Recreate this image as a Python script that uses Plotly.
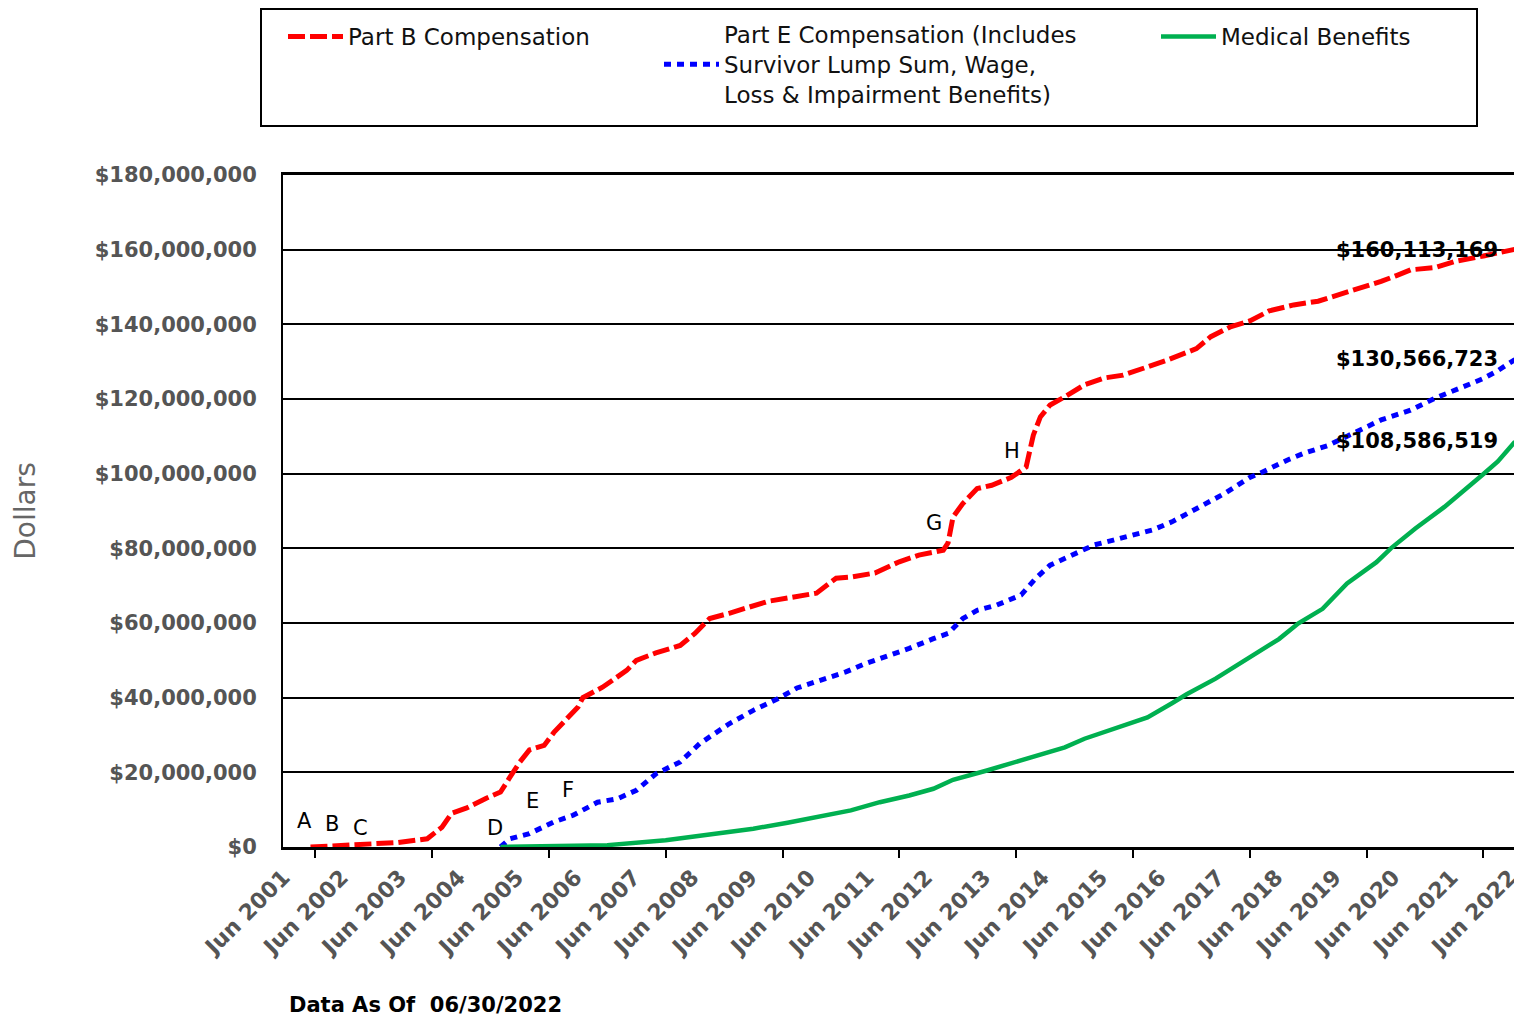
import plotly.graph_objects as go

# ---------------- data ----------------
part_b_dates = [
    "2001-11-15", "2002-03-15", "2002-11-15", "2003-05-15", "2003-11-15",
    "2004-02-15", "2004-04-15", "2004-07-15", "2004-11-15", "2005-02-15",
    "2005-04-15", "2005-06-15", "2005-08-15", "2005-11-15", "2006-01-15",
    "2006-03-15", "2006-06-15", "2006-07-15", "2006-11-15", "2007-04-15",
    "2007-06-15", "2007-10-15", "2008-03-15", "2008-06-15", "2008-09-15",
    "2009-01-15", "2009-05-15", "2009-09-15", "2010-02-15", "2010-07-15",
    "2010-11-15", "2011-02-15", "2011-07-15", "2011-12-15", "2012-04-15",
    "2012-09-15", "2012-10-15", "2012-11-15", "2013-01-15", "2013-04-15",
    "2013-07-15", "2013-11-15", "2014-02-15", "2014-04-01", "2014-05-15",
    "2014-07-15", "2014-10-15", "2015-02-15", "2015-06-15", "2015-10-15",
    "2016-03-15", "2016-07-15", "2017-01-15", "2017-04-15", "2017-08-15",
    "2017-12-15", "2018-04-15", "2018-09-15", "2019-02-15", "2019-06-15",
    "2019-10-15", "2020-03-15", "2020-06-15", "2020-09-15", "2021-02-15",
    "2021-06-15", "2021-12-15", "2022-03-15", "2022-06-30",
]
part_b_values = [
    0, 200000, 800000, 1200000, 2200000,
    5300000, 9000000, 10400000, 13000000, 14700000,
    18700000, 22700000, 26000000, 27200000, 30700000,
    33400000, 37500000, 40000000, 42800000, 47300000,
    50000000, 52000000, 54000000, 57200000, 61200000,
    62600000, 64200000, 65800000, 66900000, 68000000,
    72000000, 72300000, 73400000, 76400000, 78200000,
    79500000, 81500000, 88400000, 92000000, 96000000,
    96900000, 99000000, 101800000, 110300000, 115200000,
    118400000, 120600000, 123800000, 125600000, 126400000,
    128600000, 130400000, 133500000, 136700000, 139300000,
    140900000, 143600000, 145200000, 146200000, 147800000,
    149300000, 151500000, 153000000, 154600000, 155200000,
    156800000, 158300000, 159000000, 160113169,
]

part_e_dates = [
    "2005-02-15", "2005-04-15", "2005-08-15", "2006-01-15", "2006-05-15",
    "2006-10-15", "2007-02-15", "2007-06-15", "2007-10-15", "2008-03-15",
    "2008-07-15", "2009-01-15", "2009-06-15", "2009-11-15", "2010-03-15",
    "2010-07-15", "2011-01-15", "2011-05-15", "2011-09-15", "2012-02-15",
    "2012-07-15", "2012-10-15", "2013-01-15", "2013-04-15", "2013-08-15",
    "2014-01-15", "2014-04-15", "2014-07-15", "2015-01-15", "2015-04-15",
    "2015-08-15", "2015-12-15", "2016-04-15", "2016-08-15", "2016-11-15",
    "2017-04-15", "2017-07-15", "2017-12-15", "2018-02-15", "2018-08-15",
    "2018-11-15", "2019-04-15", "2019-10-15", "2020-03-15", "2020-09-15",
    "2021-02-15", "2021-07-15", "2021-12-15", "2022-03-15", "2022-06-30",
]
part_e_values = [
    0, 2200000, 3600000, 6700000, 8500000,
    12000000, 12900000, 15200000, 19600000, 22800000,
    27700000, 33000000, 36600000, 39700000, 42600000,
    44300000, 46900000, 49100000, 50900000, 53200000,
    55800000, 57200000, 61200000, 63400000, 64800000,
    67500000, 71900000, 75500000, 79100000, 80900000,
    82200000, 83600000, 84900000, 87100000, 89300000,
    92900000, 94800000, 99000000, 100100000, 103800000,
    105400000, 107500000, 111200000, 114400000, 117000000,
    120200000, 122800000, 125500000, 127600000, 130566723,
]

medical_dates = [
    "2005-02-15", "2006-01-15", "2006-12-15", "2007-12-15", "2008-11-15",
    "2009-06-15", "2010-01-15", "2010-09-15", "2011-02-15", "2011-08-15",
    "2012-02-15", "2012-07-15", "2012-11-15", "2013-06-15", "2014-01-15",
    "2014-06-15", "2014-10-15", "2015-02-15", "2015-08-15", "2016-03-15",
    "2016-08-15", "2016-11-15", "2017-05-15", "2017-12-15", "2018-06-15",
    "2018-10-15", "2019-03-15", "2019-08-15", "2020-02-15", "2020-05-15",
    "2020-10-15", "2021-04-15", "2021-09-15", "2021-12-15", "2022-03-15",
    "2022-06-30",
]
medical_values = [
    0, 200000, 500000, 1800000, 3600000,
    4900000, 6500000, 8500000, 9800000, 12000000,
    13800000, 15600000, 18000000, 20500000, 23200000,
    25000000, 26700000, 29000000, 31700000, 34700000,
    38500000, 40900000, 45100000, 50900000, 55700000,
    59900000, 63800000, 70600000, 76300000, 80000000,
    85300000, 91100000, 96400000, 99900000, 103300000,
    108586519,
]

x_tick_years = list(range(2001, 2023))
x_tick_labels = [f"Jun {y}" for y in x_tick_years]
y_tick_values = [0, 20e6, 40e6, 60e6, 80e6, 100e6, 120e6, 140e6, 160e6, 180e6]
y_tick_labels = ["$0", "$20,000,000", "$40,000,000", "$60,000,000", "$80,000,000",
                 "$100,000,000", "$120,000,000", "$140,000,000", "$160,000,000",
                 "$180,000,000"]

event_letters = ["A", "B", "C", "D", "E", "F", "G", "H"]
event_dates = ["2001-10-11", "2002-03-28", "2002-09-26", "2005-01-11",
               "2005-09-06", "2006-04-13", "2012-07-18", "2013-11-18"]
event_values = [7.0e6, 6.2e6, 5.1e6, 5.1e6, 12.3e6, 15.3e6, 86.8e6, 106.1e6]

final_labels = ["$160,113,169", "$130,566,723", "$108,586,519"]
final_values = [159.9e6, 130.7e6, 108.75e6]

# ---------------- figure ----------------
W, H = 1514, 1011
ML, MR, MT, MB = 275, 4, 167, 172
PW = W - ML - MR
PH = H - MT - MB


def px_x(fx):
    return (fx - ML) / PW


def px_y(fy):
    return (H - MB - fy) / PH


fig = go.Figure()
fig.add_trace(go.Scatter(
    x=part_b_dates, y=part_b_values, mode="lines", name="Part B Compensation",
    line=dict(color="#FF0000", width=5, dash="17px,5px"), legend="legend"))
fig.add_trace(go.Scatter(
    x=part_e_dates, y=part_e_values, mode="lines",
    name="Part E Compensation (Includes<br>Survivor Lump Sum, Wage,<br>Loss &amp; Impairment Benefits)",
    line=dict(color="#0000FF", width=5, dash="7px,6px"), legend="legend2"))
fig.add_trace(go.Scatter(
    x=medical_dates, y=medical_values, mode="lines", name="Medical Benefits",
    line=dict(color="#00B050", width=4.5), legend="legend3"))

legend_font = dict(family="DejaVu Sans", size=23, color="#111111")
common_legend = dict(font=legend_font, bgcolor="rgba(0,0,0,0)", borderwidth=0,
                     itemwidth=55, xanchor="left", yanchor="top",
                     orientation="v", itemclick=False, itemdoubleclick=False)

annotations = []
for t, xd, yv in zip(event_letters, event_dates, event_values):
    annotations.append(dict(x=xd, y=yv, xref="x", yref="y", text=t, showarrow=False,
                            font=dict(family="DejaVu Sans", size=21, color="black")))
for t, yv in zip(final_labels, final_values):
    annotations.append(dict(x="2022-03-28", y=yv, xref="x", yref="y", text=t,
                            showarrow=False, xanchor="right",
                            font=dict(family="DejaVu Sans", size=21, color="black",
                                      weight="bold")))
annotations.append(dict(x=px_x(279), y=px_y(997), xref="paper", yref="paper",
                        text="Data As Of\u00a0\u00a006/30/2022", showarrow=False,
                        xanchor="left", yanchor="middle",
                        font=dict(family="DejaVu Sans", size=21, color="black",
                                  weight="bold")))

minor_tick_dates = [f"{y}-12-15" for y in range(2001, 2022, 2)]

fig.update_layout(
    width=W, height=H,
    margin=dict(l=ML, r=MR, t=MT, b=MB, autoexpand=False),
    paper_bgcolor="white", plot_bgcolor="white",
    showlegend=True,
    legend=dict(common_legend, x=px_x(275), y=px_y(7)),
    legend2=dict(common_legend, x=px_x(651), y=px_y(5)),
    legend3=dict(common_legend, x=px_x(1148), y=px_y(7)),
    xaxis=dict(
        type="date", range=["2001-05-27", "2022-07-19"],
        tickmode="array", tickvals=[f"{y}-06-30" for y in x_tick_years],
        ticktext=x_tick_labels, tickangle=-45, ticks="",
        ticklabeloverflow="allow", ticklabelshift=-5, ticklabelstandoff=6,
        showline=True, mirror=True, linecolor="black", linewidth=2.5,
        showgrid=False, zeroline=False,
        tickfont=dict(family="DejaVu Sans", size=22, color="#555555", weight="bold"),
        minor=dict(tickmode="array", tickvals=minor_tick_dates, ticks="outside",
                   ticklen=8, tickwidth=2, tickcolor="black", showgrid=False),
    ),
    yaxis=dict(
        range=[0, 180e6], tickmode="array", tickvals=y_tick_values,
        ticktext=y_tick_labels, ticks="",
        showgrid=True, gridcolor="black", gridwidth=1.5,
        showline=True, linecolor="black", linewidth=2, zeroline=False,
        ticklabelstandoff=20,
        tickfont=dict(family="DejaVu Sans", size=21, color="#555555", weight="bold"),
        title=dict(text="Dollars", standoff=51,
                   font=dict(family="DejaVu Sans", size=28, color="#666666")),
    ),
    annotations=annotations,
    shapes=[dict(type="rect", xref="paper", yref="paper",
                 x0=px_x(253), x1=px_x(1469), y0=px_y(118), y1=px_y(1),
                 line=dict(color="black", width=2), fillcolor="rgba(0,0,0,0)")],
)

fig.write_html("out.html")
